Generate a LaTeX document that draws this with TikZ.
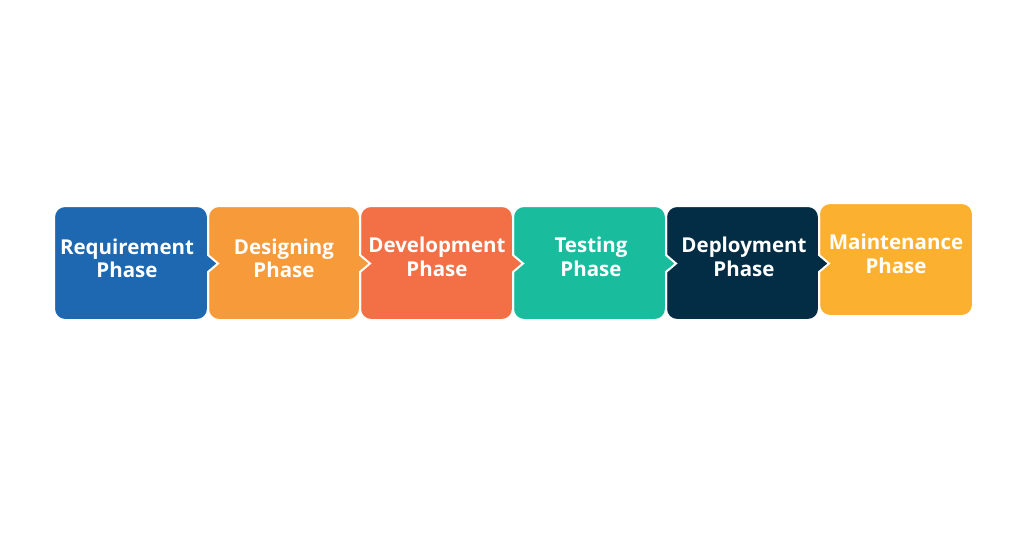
\documentclass[tikz,border=0pt]{standalone}
\usepackage{fontspec}
\setmainfont{Open Sans}
\definecolor{cReq}{RGB}{30,104,177}
\definecolor{cDes}{RGB}{247,154,58}
\definecolor{cDev}{RGB}{243,111,70}
\definecolor{cTest}{RGB}{26,188,158}
\definecolor{cDep}{RGB}{3,45,69}
\definecolor{cMnt}{RGB}{251,177,47}
\tikzset{
  phase/.style={fill=#1, draw=white, line width=2pt},
  phaselabel/.style={text=white, font=\fontsize{20.5}{23.5}\selectfont\bfseries, align=center, inner sep=0pt},
}
% #1 colour, #2 left, #3 right, #4 top, #5 bottom, #6 arrow middle (pixel coordinates, y downwards)
\newcommand\arrowbox[6]{%
  \path[phase=#1]
    (#2+11,-#4) -- (#3-11,-#4)
    arc[start angle=90, end angle=0, radius=11pt]
    -- (#3,-#6+8.5) -- (#3+10,-#6) -- (#3,-#6-8.5)
    -- (#3,-#5+11)
    arc[start angle=0, end angle=-90, radius=11pt]
    -- (#2+11,-#5)
    arc[start angle=-90, end angle=-180, radius=11pt]
    -- (#2,-#4-11)
    arc[start angle=180, end angle=90, radius=11pt]
    -- cycle;}
\begin{document}
\begin{tikzpicture}[x=1pt,y=1pt]
\useasboundingbox[fill=white] (0,0) rectangle (1024,-536);
% last box first, so every arrow point lies over the next box
\path[phase=cMnt, rounded corners=11pt] (819,-203) rectangle (973,-316);
\arrowbox{cDep}{666}{819}{206}{320}{263.5}
\arrowbox{cTest}{513}{666}{206}{320}{263.5}
\arrowbox{cDev}{360}{513}{206}{320}{263.5}
\arrowbox{cDes}{208}{360}{206}{320}{263.5}
\arrowbox{cReq}{54}{208}{206}{320}{263.5}
\node[phaselabel] (req) at (127,-258.5) {Requirement\\Phase};
\node[phaselabel] (des) at (284,-258.5) {Designing\\Phase};
\node[phaselabel] (dev) at (437,-257) {Development\\Phase};
\node[phaselabel] (tst) at (591,-257) {Testing\\Phase};
\node[phaselabel] (dep) at (744,-257) {Deployment\\Phase};
\node[phaselabel] (mnt) at (896,-254) {Maintenance\\Phase};
\end{tikzpicture}
\end{document}
